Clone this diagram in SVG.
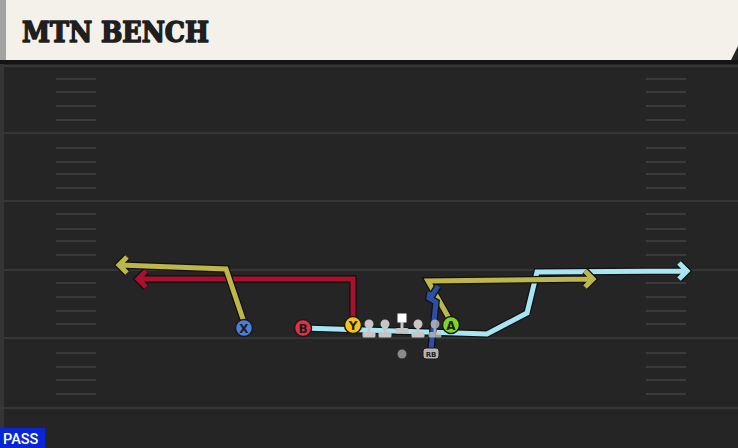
<svg xmlns="http://www.w3.org/2000/svg" width="738" height="448" viewBox="0 0 738 448">
<style>
.yard{stroke:#363636;stroke-width:2}
.hash{stroke:#3a3a3a;stroke-width:2}
.ol{fill:none;stroke:#111;stroke-width:7.5;stroke-linejoin:miter;stroke-linecap:butt}
.rt{fill:none;stroke-width:5;stroke-linejoin:miter;stroke-linecap:butt}
.cyan{stroke:#a6e6f4}
.red{stroke:#a8102c}
.olive{stroke:#bdb64a}
.blue{stroke:#2b4fa6}
.pl{stroke:#1a1a1a;stroke-width:1.5}
.lbl{font-family:"DejaVu Sans","Liberation Sans",sans-serif;font-weight:bold;font-size:12px;fill:#1d1d1d;text-anchor:middle}
.ln{fill:#c6c6c6}
</style>
<rect x="0" y="0" width="738" height="448" fill="#252525"/>
<rect x="0" y="60" width="4" height="388" fill="#343434"/>
<g id="header">
<rect x="0" y="0" width="6" height="60" fill="#a3a3a3"/>
<path d="M6,0 H738 V46 L731,60 H6 Z" fill="#f4f1ea"/>
<rect x="0" y="60" width="738" height="4" fill="#141414"/>
<text x="22" y="42" font-family="'DejaVu Serif','Liberation Serif',serif" font-weight="bold" font-size="27.5" fill="#1f1f1f" stroke="#1f1f1f" stroke-width="1.6" stroke-linejoin="round" textLength="187" lengthAdjust="spacingAndGlyphs">MTN BENCH</text>
</g>
<g id="field">
<line class="yard" x1="0" y1="66" x2="738" y2="66"/>
<line class="yard" x1="0" y1="133" x2="738" y2="133"/>
<line class="yard" x1="0" y1="201" x2="738" y2="201"/>
<line class="yard" x1="0" y1="270" x2="738" y2="270"/>
<line class="yard" x1="0" y1="338" x2="738" y2="338"/>
<line class="yard" x1="0" y1="408" x2="738" y2="408"/>
<g class="hash">
<path d="M56,79H96M56,92H96M56,106H96M56,120H96M56,148H96M56,162H96M56,174H96M56,188H96M56,214H96M56,229H96M56,241H96M56,255H96M56,283H96M56,297H96M56,311H96M56,324H96M56,353H96M56,367H96M56,380H96M56,394H96"/>
<path d="M646,79H686M646,92H686M646,106H686M646,120H686M646,148H686M646,162H686M646,174H686M646,188H686M646,214H686M646,229H686M646,241H686M646,255H686M646,283H686M646,297H686M646,311H686M646,324H686M646,353H686M646,367H686M646,380H686M646,394H686"/>
</g>
</g>
<g id="connectors">
<path class="ol" d="M303,328 L487,334 L527,313 L537,272 L686,271 M679,263 L687,271 L679,279"/>
<path class="rt cyan" d="M303,328 L487,334 L527,313 L537,272 L686,271 M679,263 L687,271 L679,279"/>
<path class="ol" d="M353,320 L353,279 L138,279 M146,271 L138,279 L146,287"/>
<path class="rt red" d="M353,320 L353,279 L138,279 M146,271 L138,279 L146,287"/>
<path class="ol" d="M244,322 L226,269 L119,265 M127,257 L119,265 L127,273"/>
<path class="rt olive" d="M244,322 L226,269 L119,265 M127,257 L119,265 L127,273"/>
<path class="ol" d="M450,320 L428,281 L593,279 M585,271 L593,279 L585,287"/>
<path class="rt olive" d="M450,320 L428,281 L593,279 M585,271 L593,279 L585,287"/>
</g>
<g id="linemen">
<g id="lt" class="ln"><circle cx="369" cy="324" r="4.5"/><rect x="367.5" y="326" width="3" height="8"/><rect x="362.5" y="332" width="13" height="5.5" rx="1.5"/></g>
<g id="lg" class="ln"><circle cx="385" cy="324" r="4.5"/><rect x="383.5" y="326" width="3" height="8"/><rect x="378.5" y="332" width="13" height="5.5" rx="1.5"/></g>
<g id="c" class="ln"><rect x="397.5" y="313.5" width="9" height="9" fill="#ffffff"/><rect x="400.5" y="322" width="3" height="7"/><rect x="395.5" y="328" width="13" height="5.5" rx="1.5"/></g>
<g id="rg" class="ln"><circle cx="418" cy="324" r="4.5"/><rect x="416.5" y="326" width="3" height="8"/><rect x="411.5" y="332" width="13" height="5.5" rx="1.5"/></g>
</g>
<g id="rb-route">
<path class="ol" d="M431,349 L436,302 L429,298 L430,292 M430,299 L438,286"/>
<path class="rt blue" d="M431,349 L436,302 L429,298 L430,292 M430,299 L438,286"/>
</g>
<g id="rt" class="ln" opacity="0.75"><circle cx="435" cy="324" r="4.5"/><rect x="433.5" y="326" width="3" height="8"/><rect x="428.5" y="332" width="13" height="5.5" rx="1.5"/></g>
<g id="qb"><circle cx="402" cy="354" r="4.5" fill="#8a8a8a"/></g>
<g id="rb"><rect x="423" y="348" width="16" height="11" rx="3" fill="#b4b4b4" stroke="#1a1a1a" stroke-width="1"/><text x="431" y="356.5" font-family="'DejaVu Sans','Liberation Sans',sans-serif" font-weight="bold" font-size="7" fill="#222" text-anchor="middle">RB</text></g>
<g id="X"><circle class="pl" cx="244" cy="328" r="8.5" fill="#4a7fdc"/><text class="lbl" x="244" y="332.5">X</text></g>
<g id="B"><circle class="pl" cx="303" cy="328" r="8.5" fill="#e2303e"/><text class="lbl" x="303" y="332.5">B</text></g>
<g id="Y"><circle class="pl" cx="353" cy="325" r="8.5" fill="#f6c419"/><text class="lbl" x="353" y="329.5">Y</text></g>
<g id="A"><circle class="pl" cx="451" cy="325" r="8.5" fill="#7fd526"/><text class="lbl" x="451" y="329.5">A</text></g>
<g id="tag"><rect x="0" y="428" width="45" height="20" fill="#0a25d6"/><text x="3" y="444" font-family="'Roboto','Liberation Sans',sans-serif" font-size="14.5" font-weight="500" fill="#ffffff">PASS</text></g>
</svg>
